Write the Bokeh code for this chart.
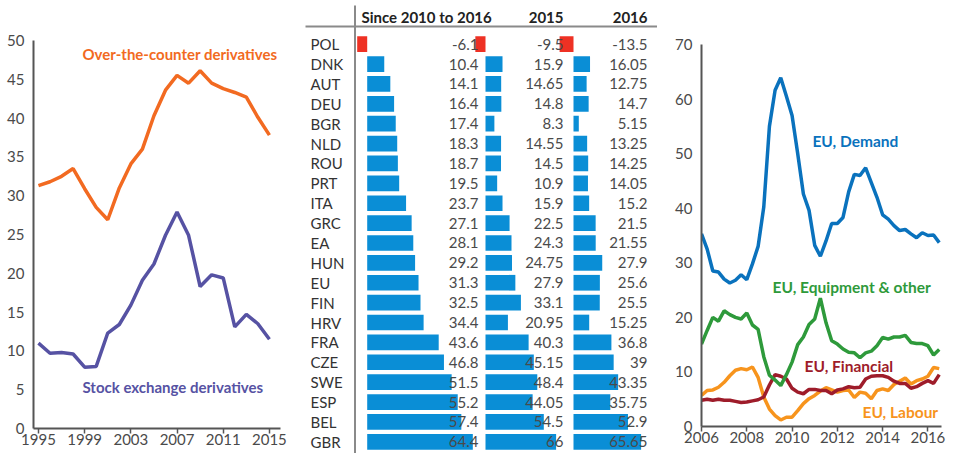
from bokeh.plotting import figure
from bokeh.layouts import row
from bokeh.models import Range1d, FixedTicker, ColumnDataSource
from bokeh.core.properties import value
from bokeh.embed import file_html
from bokeh.resources import INLINE

FONT = "Lato"
GREY = "#555555"
TXT = "#4a4a4a"

# ---------------- Left chart data ----------------
years = list(range(1995, 2016))
otc = [31.3, 31.8, 32.5, 33.5, 30.9, 28.5, 26.9, 31.0, 34.1, 36.0, 40.3,
       43.6, 45.5, 44.5, 46.1, 44.5, 43.8, 43.3, 42.7, 40.1, 37.8]
stock = [11.0, 9.7, 9.8, 9.6, 7.9, 8.0, 12.3, 13.4, 15.9, 19.1, 21.2,
         24.9, 27.9, 24.9, 18.3, 19.8, 19.4, 13.1, 14.7, 13.5, 11.5]
left_ticks = [1995, 1999, 2003, 2007, 2011, 2015]

# ---------------- Middle table data ----------------
countries = ["POL", "DNK", "AUT", "DEU", "BGR", "NLD", "ROU", "PRT", "ITA", "GRC", "EA",
             "HUN", "EU", "FIN", "HRV", "FRA", "CZE", "SWE", "ESP", "BEL", "GBR"]
since_2010 = [-6.1, 10.4, 14.1, 16.4, 17.4, 18.3, 18.7, 19.5, 23.7, 27.1, 28.1,
              29.2, 31.3, 32.5, 34.4, 43.6, 46.8, 51.5, 55.2, 57.4, 64.4]
v2015 = [-9.5, 15.9, 14.65, 14.8, 8.3, 14.55, 14.5, 10.9, 15.9, 22.5, 24.3,
         24.75, 27.9, 33.1, 20.95, 40.3, 45.15, 48.4, 44.05, 54.5, 66]
v2016 = [-13.5, 16.05, 12.75, 14.7, 5.15, 13.25, 14.25, 14.05, 15.2, 21.5, 21.55,
         27.9, 25.6, 25.5, 15.25, 36.8, 39, 43.35, 35.75, 52.9, 65.65]
headers = ["Since 2010 to 2016", "2015", "2016"]

# ---------------- Right chart data (quarterly, 2006Q1 - 2016Q3) ----------------
quarters = [2006 + 0.25 * i for i in range(43)]
demand = [35.3, 32.5, 28.5, 28.3, 27.0, 26.3, 26.8, 27.8, 26.9, 29.8, 33.0,
          40.2, 55.0, 61.6, 63.9, 60.5, 57.0, 50.0, 42.6, 39.6, 33.2, 31.2,
          34.0, 37.2, 37.2, 38.3, 43.0, 46.2, 46.0, 47.4, 44.7, 42.0, 38.8,
          38.0, 36.8, 35.9, 36.1, 35.3, 34.6, 35.5, 35.0, 35.1, 33.7]
equipment = [15.1, 17.6, 20.0, 19.3, 21.2, 20.5, 20.0, 19.7, 20.8, 18.6, 17.8,
             12.8, 9.4, 8.5, 7.5, 9.5, 11.8, 15.0, 16.4, 18.7, 19.7, 23.5,
             19.0, 15.7, 15.1, 14.2, 13.6, 13.5, 12.6, 13.5, 13.8, 14.8, 16.3,
             16.0, 16.4, 16.4, 16.7, 15.4, 15.2, 15.2, 14.8, 13.1, 14.1]
financial = [4.8, 5.0, 4.8, 5.0, 4.8, 4.8, 4.6, 4.4, 4.5, 4.7, 4.9,
             5.4, 7.6, 9.5, 9.2, 8.7, 7.0, 6.3, 6.0, 6.8, 6.8, 6.6,
             6.6, 6.0, 6.7, 6.9, 7.3, 7.1, 7.2, 8.7, 9.2, 9.3, 9.3,
             9.0, 8.3, 7.9, 7.9, 7.0, 7.3, 7.9, 8.4, 7.9, 9.5]
labour = [5.7, 6.6, 6.7, 7.2, 8.1, 9.3, 10.3, 10.6, 10.4, 10.9, 9.0,
          5.4, 3.2, 2.0, 1.2, 1.7, 1.7, 2.9, 4.2, 5.1, 5.7, 6.5,
          7.1, 6.7, 6.3, 6.6, 6.7, 5.3, 6.3, 6.1, 5.1, 6.6, 6.9,
          6.6, 7.7, 8.3, 8.9, 7.8, 8.4, 8.7, 9.2, 10.8, 10.6]
right_ticks = [2006, 2008, 2010, 2012, 2014, 2016]


def style_axes(p):
    for ax in (p.xaxis[0], p.yaxis[0]):
        ax.axis_line_color = GREY
        ax.axis_line_width = 2
        ax.major_label_text_font = FONT
        ax.major_label_text_font_size = "15px"
        ax.major_label_text_color = TXT
        ax.major_label_text_line_height = 1.0
        ax.minor_tick_line_color = None
    p.yaxis.major_tick_line_color = None
    p.yaxis.major_tick_out = 0
    p.yaxis.major_label_standoff = 9
    p.xaxis.major_tick_line_color = GREY
    p.xaxis.major_tick_line_width = 1.5
    p.xaxis.major_tick_out = 5
    p.xaxis.major_tick_in = 0
    p.xaxis.major_label_standoff = 0
    p.xgrid.visible = False
    p.ygrid.visible = False
    p.outline_line_color = None
    p.title.visible = False


H = 453

# ---------------- Left figure ----------------
pl = figure(width=296, height=H, output_backend="svg", toolbar_location=None,
            x_range=Range1d(1994.57, 2015.96), y_range=Range1d(0, 50),
            min_border_left=33, min_border_right=16, min_border_top=40, min_border_bottom=25)
pl.frame_align = False
style_axes(pl)
pl.xaxis.ticker = FixedTicker(ticks=left_ticks)
pl.yaxis.ticker = FixedTicker(ticks=list(range(0, 51, 5)))
pl.line(years, otc, line_color="#f26a21", line_width=3.5)
pl.line(years, stock, line_color="#5652a3", line_width=3.5)
for ty, t, c in [(48.2, "Over-the-counter derivatives", "#f26a21"),
                 (5.3, "Stock exchange derivatives", "#5652a3")]:
    pl.text(x=[1998.81], y=[ty], text=[t], text_color=c, text_font=value(FONT),
            text_font_style="bold", text_font_size="15px",
            text_baseline="middle", text_align="left")

# ---------------- Middle figure (table with bars) ----------------
pm = figure(width=361, height=H, output_backend="svg", toolbar_location=None,
            x_range=Range1d(296, 657), y_range=Range1d(20.589, -2.198),
            x_axis_location=None, y_axis_location=None,
            min_border=0, min_border_left=0, min_border_right=0,
            min_border_top=0, min_border_bottom=0)
pm.frame_align = False
pm.title.visible = False
pm.xgrid.visible = False
pm.ygrid.visible = False
pm.outline_line_color = None

rows_idx = list(range(len(countries)))
col_specs = [(since_2010, 366.7, 1.64, 478.0), (v2015, 485.0, 1.07, 563.0), (v2016, 573.0, 1.03, 647.0)]
for vals, base, k, txt_x in col_specs:
    left = [base + min(v, 0) * k for v in vals]
    right = [base + max(v, 0) * k for v in vals]
    colors = ["#ee3124" if v < 0 else "#0a8ed6" for v in vals]
    src = ColumnDataSource(dict(y=rows_idx, left=left, right=right, color=colors))
    pm.hbar(y="y", left="left", right="right", height=0.79, fill_color="color",
            line_color=None, source=src)
for vals, base, k, txt_x in col_specs:
    labels = [("%g" % v) for v in vals]
    pm.text(x=[txt_x] * len(vals), y=rows_idx, text=labels, text_color=TXT,
            text_font=value(FONT), text_font_size="15px", text_align="right",
            text_baseline="middle")
pm.text(x=[310] * len(countries), y=rows_idx, text=countries, text_color="#333333",
        text_font=value(FONT), text_font_size="15px", text_align="left",
        text_baseline="middle")
# header
hdr_y = -1.343
pm.text(x=[361], y=[hdr_y], text=[headers[0]], text_color="#222222", text_font=value(FONT),
        text_font_style="bold", text_font_size="15px", text_align="left", text_baseline="middle")
pm.text(x=[563, 647], y=[hdr_y, hdr_y], text=headers[1:], text_color="#222222",
        text_font=value(FONT), text_font_style="bold", text_font_size="15px",
        text_align="right", text_baseline="middle")
pm.segment(x0=[305], y0=[-0.89], x1=[657], y1=[-0.89], line_color="#8a8a8a", line_width=2)
pm.segment(x0=[354.5], y0=[-1.946], x1=[354.5], y1=[20.589], line_color="#8a8a8a", line_width=2)

# ---------------- Right figure ----------------
pr = figure(width=296, height=H, output_backend="svg", toolbar_location=None,
            x_range=Range1d(2006, 2016.6), y_range=Range1d(0, 70),
            min_border_left=44, min_border_right=12, min_border_top=44, min_border_bottom=27)
pr.frame_align = False
style_axes(pr)
pr.xaxis.ticker = FixedTicker(ticks=right_ticks)
pr.yaxis.ticker = FixedTicker(ticks=list(range(0, 71, 10)))
pr.line(quarters, labour, line_color="#f7941d", line_width=3.5)
pr.line(quarters, financial, line_color="#9e1c2a", line_width=3.5)
pr.line(quarters, equipment, line_color="#2e9a3b", line_width=3.5)
pr.line(quarters, demand, line_color="#0a72bd", line_width=3.5)
for tx, ty, t, c in [(2010.90, 52.4, "EU, Demand", "#0a72bd"),
                     (2009.14, 25.5, "EU, Equipment & other", "#2e9a3b"),
                     (2010.55, 11.0, "EU, Financial", "#9e1c2a"),
                     (2013.11, 2.6, "EU, Labour", "#f7941d")]:
    pr.text(x=[tx], y=[ty], text=[t], text_color=c, text_font=value(FONT),
            text_font_style="bold", text_font_size="15.5px", text_align="left",
            text_baseline="middle")

layout = row(pl, pm, pr, spacing=0)
open("out.html", "w").write(file_html(layout, INLINE))
